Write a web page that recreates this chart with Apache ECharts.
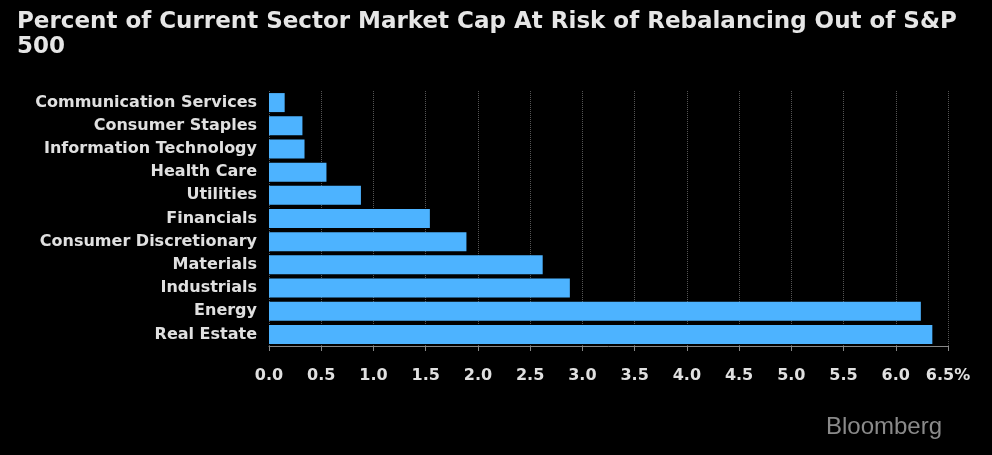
<!DOCTYPE html>
<html>
<head>
<meta charset="utf-8">
<script src="https://cdn.jsdelivr.net/npm/echarts@6/dist/echarts.min.js"></script>
<style>
  html, body { margin: 0; padding: 0; background: #000; }
  #chart { width: 992px; height: 455px; }
</style>
</head>
<body>
<div id="chart"></div>
<script>
const sectors = ['Communication Services', 'Consumer Staples', 'Information Technology', 'Health Care',
  'Utilities', 'Financials', 'Consumer Discretionary', 'Materials', 'Industrials', 'Energy', 'Real Estate'];
const percentAtRisk = [0.15, 0.32, 0.34, 0.55, 0.88, 1.54, 1.89, 2.62, 2.88, 6.24, 6.35];

const chart = echarts.init(document.getElementById('chart'));
chart.setOption({
  backgroundColor: '#000',
  animation: false,
  title: {
    text: 'Percent of Current Sector Market Cap At Risk of Rebalancing Out of S&P\n500',
    left: 12, top: 5,
    textStyle: { color: '#e6e6e6', fontFamily: 'DejaVu Sans', fontSize: 23, fontWeight: 'bold', lineHeight: 25 }
  },
  graphic: [{
    type: 'text', right: 50, bottom: 16,
    style: { text: 'Bloomberg', fill: '#8a8a8a', font: '24px "Liberation Sans"' }
  }],
  grid: { left: 269, right: 44, top: 91, bottom: 109 },
  xAxis: {
    type: 'value', min: 0, max: 6.5, interval: 0.5,
    axisLine: { show: true, lineStyle: { color: '#888' } },
    axisTick: { show: true, length: 5, lineStyle: { color: '#888' } },
    splitLine: { show: true, lineStyle: { color: '#555', type: 'dotted' } },
    axisLabel: {
      color: '#e0e0e0', fontFamily: 'DejaVu Sans', fontWeight: 'bold', fontSize: 16, margin: 22,
      formatter: v => v === 6.5 ? '6.5%' : v.toFixed(1)
    }
  },
  yAxis: {
    type: 'category', data: sectors, inverse: true,
    axisLine: { show: false }, axisTick: { show: false },
    axisLabel: { color: '#e0e0e0', fontFamily: 'DejaVu Sans', fontWeight: 'bold', fontSize: 16, margin: 12 }
  },
  series: [{
    type: 'bar', data: percentAtRisk, barWidth: 19,
    itemStyle: { color: '#4db3ff' }
  }]
});
</script>
</body>
</html>
